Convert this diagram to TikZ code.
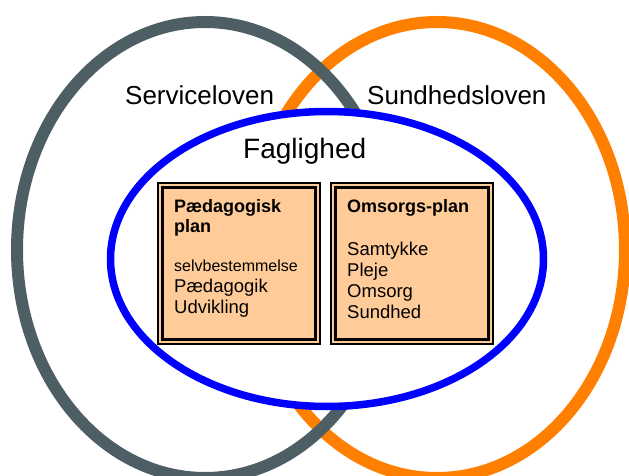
\documentclass[tikz,border=0pt]{standalone}
\usepackage{fontspec}
\setmainfont{Liberation Sans}
\definecolor{grayring}{HTML}{4D5E64}
\definecolor{orangering}{HTML}{FF8000}
\definecolor{bluering}{HTML}{0000FF}
\definecolor{peach}{HTML}{FFCC99}
\tikzset{
  law/.style={anchor=base west, inner sep=0pt, font=\fontsize{26}{30}\selectfont},
  title/.style={anchor=base west, inner sep=0pt, font=\fontsize{28}{32}\selectfont},
  head/.style={anchor=base west, inner sep=0pt, font=\fontsize{18}{21}\selectfont\bfseries},
  item/.style={anchor=base west, inner sep=0pt, font=\fontsize{18.5}{21}\selectfont},
  smallitem/.style={anchor=base west, inner sep=0pt, font=\fontsize{16}{19}\selectfont},
  outerbox/.style={draw=black, fill=peach, line width=2pt, inner sep=0pt, minimum width=162pt, minimum height=161pt},
  innerbox/.style={draw=black, line width=3pt, inner sep=0pt, minimum width=153pt, minimum height=152pt},
}
\begin{document}
\begin{tikzpicture}[x=1pt,y=-1pt]
\useasboundingbox (0,0) rectangle (629,476);
% rings
\draw[orangering, line width=12pt] (437,250) ellipse [x radius=188, y radius=228];
\draw[grayring, line width=12pt] (205,250) ellipse [x radius=188, y radius=228];
\draw[bluering, fill=white, line width=7.5pt] (327,259) ellipse [x radius=216.5, y radius=147.5];
% boxes
\node (lboxo) [outerbox] at (239,263.5) {};
\node (lboxi) [innerbox] at (239,263.5) {};
\node (rboxo) [outerbox] at (412,263.5) {};
\node (rboxi) [innerbox] at (412,263.5) {};
% labels
\node (service) [law] at (125,105) {Serviceloven};
\node (sundhed) [law] at (367,105) {Sundhedsloven};
\node (fag) [title] at (243,158) {Faglighed};
% left box text
\node (l1) [head] at (174,212) {Pædagogisk};
\node (l2) [head] at (174,232) {plan};
\node (l3) [smallitem] at (174,271) {selvbestemmelse};
\node (l4) [item] at (174,292) {Pædagogik};
\node (l5) [item] at (174,313) {Udvikling};
% right box text
\node (r1) [head] at (347,212) {Omsorgs-plan};
\node (r2) [item] at (347,255) {Samtykke};
\node (r3) [item] at (347,276) {Pleje};
\node (r4) [item] at (347,297) {Omsorg};
\node (r5) [item] at (347,318) {Sundhed};
\end{tikzpicture}
\end{document}
